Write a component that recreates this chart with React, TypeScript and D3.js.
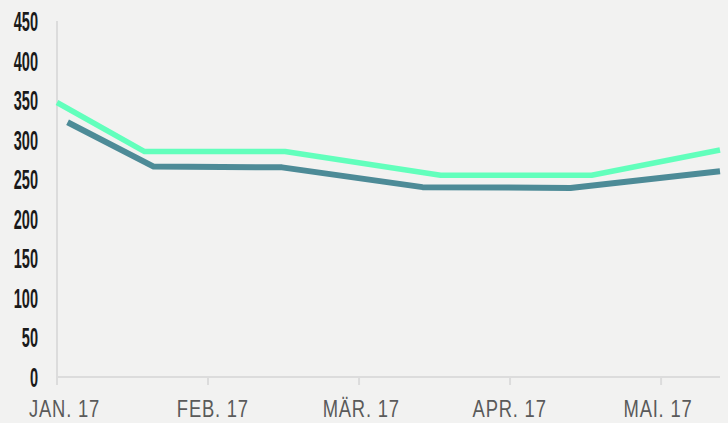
import React, { useEffect, useRef } from 'react';
import * as d3 from 'd3';

// month labels on the x axis (evenly spaced categories)
const months = ['JAN. 17', 'FEB. 17', 'MÄR. 17', 'APR. 17', 'MAI. 17'];
const yTicks = [0, 50, 100, 150, 200, 250, 300, 350, 400, 450];

// positions are in month units (0 = JAN. 17)
const greenPos = [0.0, 0.58, 1.51, 2.54, 3.54, 4.39];
const greenVals = [347, 285, 285, 255, 255, 287];

const tealPos = [0.07, 0.64, 1.49, 2.42, 3.4, 4.39];
const tealVals = [322, 266, 265, 240, 239, 260];

const W = 728,
  H = 423;

export default function App() {
  const ref = useRef<SVGSVGElement>(null);

  useEffect(() => {
    const svg = d3.select(ref.current);
    svg.selectAll('*').remove();

    const margin = { left: 57, right: 8, top: 21, bottom: 46 };

    const x = d3.scaleLinear().domain([0, 4.39]).range([margin.left, W - margin.right]);
    const y = d3.scaleLinear().domain([0, 450]).range([H - margin.bottom, margin.top]);
    // labels sit on a slightly tighter grid than the ticks
    const xl = d3.scalePoint<string>().domain(months).range([64.5, 658]);

    svg.append('rect').attr('width', W).attr('height', H).attr('fill', '#f2f2f1');

    const axisColor = '#dcdcdc';

    // y axis line
    svg
      .append('line')
      .attr('x1', x(0))
      .attr('x2', x(0))
      .attr('y1', margin.top)
      .attr('y2', y(0) + 8)
      .attr('stroke', axisColor)
      .attr('stroke-width', 2);

    // x axis line
    svg
      .append('line')
      .attr('x1', x(0))
      .attr('x2', x(4.39))
      .attr('y1', y(0))
      .attr('y2', y(0))
      .attr('stroke', axisColor)
      .attr('stroke-width', 2);

    // x ticks + labels
    const xg = svg.append('g');
    months.forEach((m, i) => {
      xg.append('line')
        .attr('x1', x(i))
        .attr('x2', x(i))
        .attr('y1', y(0))
        .attr('y2', y(0) + 8)
        .attr('stroke', axisColor)
        .attr('stroke-width', 2);
      xg.append('text')
        .attr('transform', `translate(${xl(m)},417) scale(0.8,1)`)
        .attr('text-anchor', 'middle')
        .attr('font-family', '"Liberation Sans", sans-serif')
        .attr('font-size', 23)
        .attr('letter-spacing', 1)
        .attr('fill', '#5a5a5a')
        .text(m);
    });

    // y labels (tall condensed)
    const yg = svg.append('g');
    yTicks.forEach((t) => {
      yg.append('text')
        .attr('transform', `translate(38,${y(t) + 10}) scale(0.52,1)`)
        .attr('text-anchor', 'end')
        .attr('font-family', '"Liberation Sans", sans-serif')
        .attr('font-weight', 'bold')
        .attr('font-size', 28)
        .attr('fill', '#1a1a1a')
        .text(t);
    });

    const line = d3
      .line<[number, number]>()
      .x((d) => x(d[0]))
      .y((d) => y(d[1]));

    const series = [
      { pos: tealPos, vals: tealVals, color: '#4d8b97', width: 6 },
      { pos: greenPos, vals: greenVals, color: '#62ffbc', width: 5.5 },
    ];

    series.forEach((s) => {
      const pts = s.pos.map((p, i) => [p, s.vals[i]] as [number, number]);
      svg
        .append('path')
        .attr('d', line(pts))
        .attr('fill', 'none')
        .attr('stroke', s.color)
        .attr('stroke-width', s.width)
        .attr('stroke-linejoin', 'round');
    });
  }, []);

  return (
    <div style={{ position: 'absolute', left: 0, top: 0 }}>
      <svg ref={ref} width={W} height={H} style={{ display: 'block' }}></svg>
    </div>
  );
}
